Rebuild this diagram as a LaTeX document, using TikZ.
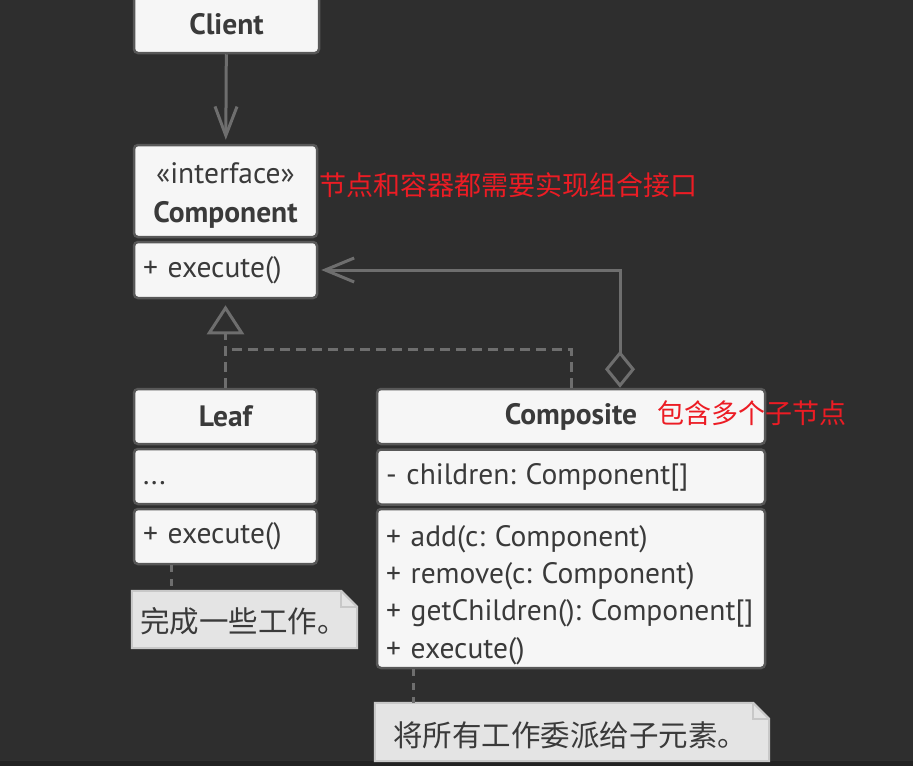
\documentclass[tikz,border=0pt]{standalone}
\usepackage{fontspec}
\setmainfont{PT Sans}
\newfontfamily\cjk{Noto Sans CJK SC}
\usetikzlibrary{arrows.meta}
\frenchspacing
\definecolor{bg}{RGB}{46,46,46}
\definecolor{bgdark}{RGB}{34,34,34}
\definecolor{boxfill}{RGB}{246,246,246}
\definecolor{boxline}{RGB}{88,88,88}
\definecolor{ink}{RGB}{58,58,58}
\definecolor{wire}{RGB}{110,110,110}
\definecolor{notefill}{RGB}{228,228,228}
\definecolor{noteline}{RGB}{200,200,200}
\definecolor{annot}{RGB}{236,28,36}
\tikzset{
	umlbox/.style={draw=boxline, line width=2.5pt, fill=boxfill, rounded corners=4pt, text=ink, inner sep=0pt, minimum height=55pt, font=\fontsize{29.5}{35}\selectfont},
	umlhead/.style={umlbox, minimum width=#1, font=\fontsize{29.5}{35}\selectfont\bfseries},
	umlops/.style={umlbox, minimum width=#1, text width=#1-18pt, inner xsep=9pt, align=left},
	wireline/.style={draw=wire, line width=3pt},
	realize/.style={wireline, dash pattern=on 10pt off 6pt},
	tieline/.style={wireline, dash pattern=on 7pt off 7pt},
	notetext/.style={inner sep=0pt, text=ink, anchor=west, font=\cjk\fontsize{29.5}{29.5}\selectfont},
	redtext/.style={inner sep=0pt, text=annot, anchor=west, font=\cjk\fontsize{27}{27}\selectfont}
}
\begin{document}
\begin{tikzpicture}[x=1pt,y=-1pt]
	\useasboundingbox (0,0) rectangle (913,766);
	\fill [bg] (0,0) rectangle (913,766);
	\fill [bgdark] (0,761) rectangle (913,766);

	\node [umlhead=185pt, minimum height=58pt] (client) at (226.5,24) {Client};

	\node [umlbox, minimum width=183pt, minimum height=92pt, align=center, font=\fontsize{29.5}{39}\selectfont] (compHead) at (225.5,191) {\rule{0pt}{29pt}«interface»\\\textbf{Component}};
	\node [umlops=183pt, minimum height=56pt] (compOps) at (225.5,270) {+ execute()};

	\node [umlhead=183pt] (leafHead) at (225.5,416.5) {Leaf};
	\node [umlops=183pt, text height=21pt, text depth=6pt] (leafAttr) at (225.5,476.5) {...};
	\node [umlops=183pt] (leafOps) at (225.5,536.5) {+ execute()};

	\node [umlhead=388pt] (compoHead) at (571,416.5) {Composite};
	\node [umlops=388pt] (compoAttr) at (571,477) {- children: Component[]};
	\node [umlops=388pt, minimum height=159pt, font=\fontsize{29.5}{37.3}\selectfont] (compoOps) at (571,588.5) {\rule{0pt}{34pt}+ add(c: Component)\\+ remove(c: Component)\\+ getChildren(): Component[]\\+ execute()};

	\draw [wireline, -{Straight Barb[length=29pt,width=22pt]}, shorten >=4pt] (client) -- (compHead);

	\coordinate (fork) at (226,349);
	\draw [realize, -{Triangle[open,length=29pt,width=37pt]}, shorten >=6pt] (leafHead.north) -- (compOps.south);
	\draw [realize] (compoHead.north) |- (fork);

	\coordinate (aggr) at ([xshift=49pt]compoHead.north);
	\draw [wireline, {Diamond[open,length=37pt,width=30pt]}-{Straight Barb[length=29pt,width=24pt]}, shorten >=3pt] (aggr) |- (compOps.east);

	\node [minimum width=225pt, minimum height=57pt, inner sep=0pt] (leafNote) at (244.5,619.5) {};
	\filldraw [fill=notefill, draw=noteline, line width=2pt] (leafNote.north west) -- ([xshift=-16pt]leafNote.north east) -- ([yshift=-16pt]leafNote.north east) -- (leafNote.south east) -- (leafNote.south west) -- cycle;
	\draw [noteline, line width=2pt] ([xshift=-16pt]leafNote.north east) |- ([yshift=-16pt]leafNote.north east);
	\node [notetext] (leafNoteText) at ([xshift=8pt,yshift=-2pt]leafNote.west) {完成一些工作。};

	\node [minimum width=394pt, minimum height=58pt, inner sep=0pt] (compoNote) at (572,732) {};
	\filldraw [fill=notefill, draw=noteline, line width=2pt] (compoNote.north west) -- ([xshift=-16pt]compoNote.north east) -- ([yshift=-16pt]compoNote.north east) -- (compoNote.south east) -- (compoNote.south west) -- cycle;
	\draw [noteline, line width=2pt] ([xshift=-16pt]compoNote.north east) |- ([yshift=-16pt]compoNote.north east);
	\node [notetext] (compoNoteText) at ([xshift=18pt,yshift=-3pt]compoNote.west) {将所有工作委派给子元素。};

	\coordinate (leafTie) at (171,0);
	\coordinate (compoTie) at (413,0);
	\draw [tieline] (leafOps.south -| leafTie) -- (leafNote.north -| leafTie);
	\draw [tieline] (compoOps.south -| compoTie) -- (compoNote.north -| compoTie);

	\node [redtext] (ifaceNote) at (319,185) {节点和容器都需要实现组合接口};
	\node [redtext] (childNote) at (657,413) {包含多个子节点};
\end{tikzpicture}
\end{document}
